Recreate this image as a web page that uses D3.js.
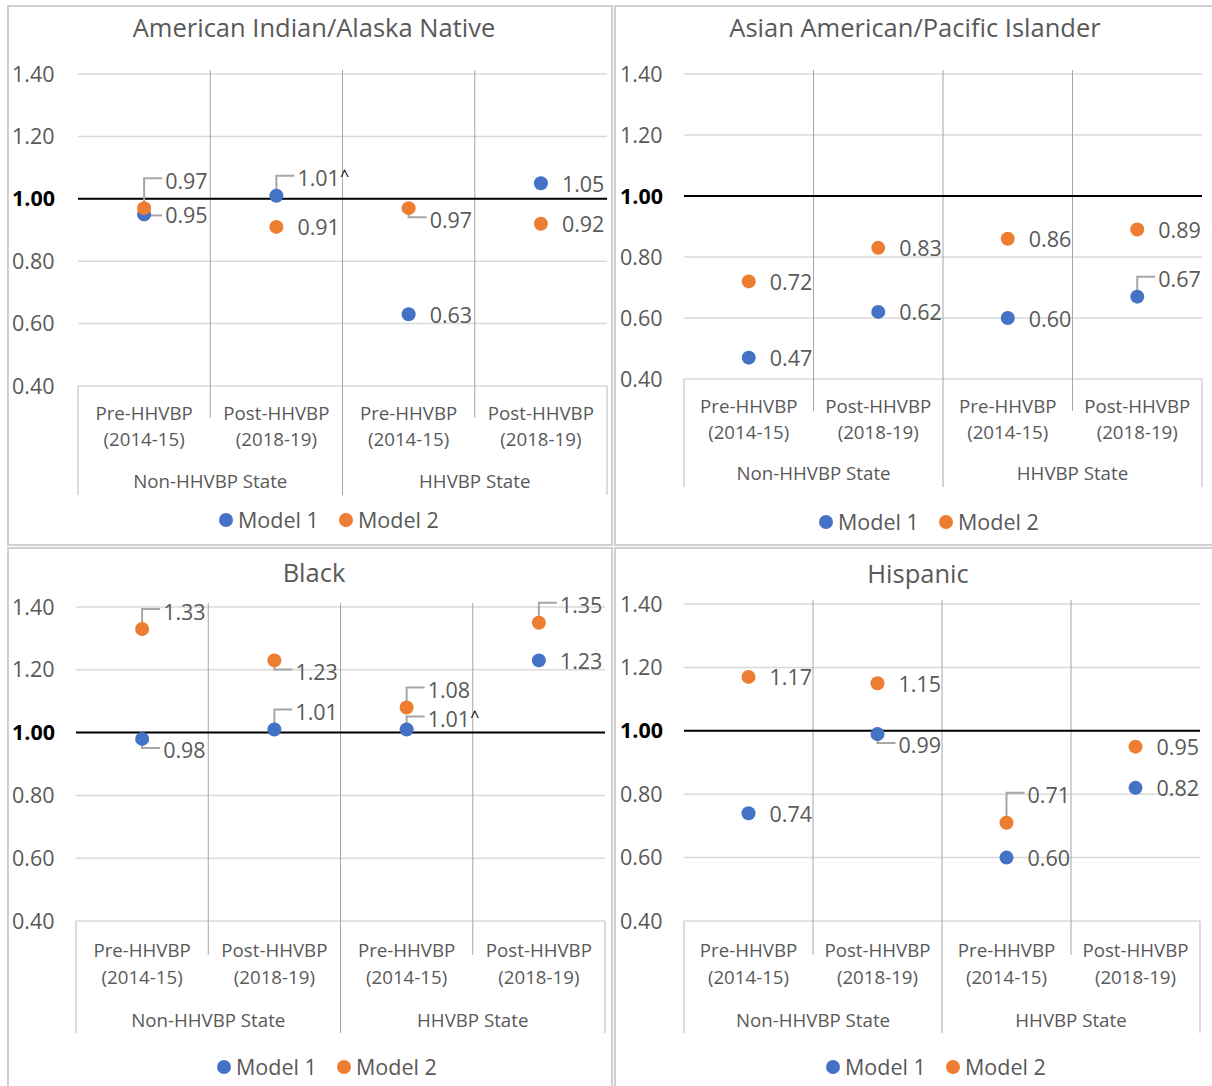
<!DOCTYPE html>
<html>
<head>
<meta charset="utf-8">
<script src="https://cdn.jsdelivr.net/npm/d3@7"></script>
<style>
body { margin: 0; background: #fff; }
text { font-family: "Open Sans", sans-serif; fill: #595959; }
</style>
</head>
<body>
<svg width="1212" height="1086"></svg>
<script>
// ---- data ----
const titles = ["American Indian/Alaska Native", "Asian American/Pacific Islander", "Black", "Hispanic"]
const periods = ["Pre-HHVBP", "Post-HHVBP", "Pre-HHVBP", "Post-HHVBP"]
const years = ["(2014-15)", "(2018-19)", "(2014-15)", "(2018-19)"]
const groups = ["Non-HHVBP State", "HHVBP State"]
const seriesNames = ["Model 1", "Model 2"]
const yTicks = [0.4, 0.6, 0.8, 1.0, 1.2, 1.4]

const model1 = [
	[0.95, 1.01, 0.63, 1.05],
	[0.47, 0.62, 0.60, 0.67],
	[0.98, 1.01, 1.01, 1.23],
	[0.74, 0.99, 0.60, 0.82],
]
const model2 = [
	[0.97, 0.91, 0.97, 0.92],
	[0.72, 0.83, 0.86, 0.89],
	[1.33, 1.23, 1.08, 1.35],
	[1.17, 1.15, 0.71, 0.95],
]
// "^" marks next to some model 1 labels
const model1Marks = [
	["", "^", "", ""],
	["", "", "", ""],
	["", "", "^", ""],
	["", "", "", ""],
]

// label placement: r = right, l = right with leader,
// s / u / U = above-right elbow (short / normal / tall), d = below-right elbow
const model1Place = [
	["l", "u", "r", "r"],
	["r", "r", "r", "u"],
	["d", "u", "s", "r"],
	["r", "d", "r", "r"],
]
const model2Place = [
	["U", "r", "d", "r"],
	["r", "r", "r", "r"],
	["u", "d", "u", "u"],
	["r", "r", "U", "r"],
]

const colors = ["#4472C4", "#ED7D31"]

// ---- layout per panel ----
const layout = [
	{ box: [8, 6, 604, 539], titleX: 314, titleY: 28, y0: 386, y1: 74, x0: 78, x1: 607, tickX: 12, cat1: 413, cat2: 439, grp: 481, axisBot: 495, legX: 226, legY: 520 },
	{ box: [615, 6, 600, 539], titleX: 915, titleY: 28, y0: 379, y1: 74, x0: 684, x1: 1202, tickX: 620, cat1: 406, cat2: 432, grp: 473, axisBot: 487, legX: 826, legY: 522 },
	{ box: [8, 548, 604, 545], titleX: 314, titleY: 573, y0: 921, y1: 607, x0: 76, x1: 605, tickX: 12, cat1: 950, cat2: 977, grp: 1020, axisBot: 1033, legX: 224, legY: 1067 },
	{ box: [615, 548, 600, 545], titleX: 918, titleY: 574, y0: 921, y1: 604, x0: 684, x1: 1200, tickX: 620, cat1: 950, cat2: 977, grp: 1020, axisBot: 1033, legX: 833, legY: 1067 },
]

const svg = d3.select("svg")

layout.forEach(function (L, i) {
	drawPanel(svg.append("g").attr("class", "panel"), L, i)
})

function drawPanel(g, L, i) {
	const y = d3.scaleLinear().domain([0.4, 1.4]).range([L.y0, L.y1])
	const x = d3.scaleBand().domain(d3.range(4)).range([L.x0, L.x1])
	const xg = d3.scaleBand().domain(d3.range(2)).range([L.x0, L.x1])

	// frame
	g.append("rect")
		.attr("x", L.box[0]).attr("y", L.box[1])
		.attr("width", L.box[2]).attr("height", L.box[3])
		.attr("fill", "#fff").attr("stroke", "#D0D0D0").attr("stroke-width", 2)

	g.append("text")
		.attr("x", L.titleX).attr("y", L.titleY)
		.attr("dy", "0.35em").attr("text-anchor", "middle")
		.attr("font-size", 25.5)
		.text(titles[i])

	// horizontal gridlines
	g.selectAll(".grid").data(yTicks).join("line")
		.attr("class", "grid")
		.attr("x1", L.x0).attr("x2", L.x1)
		.attr("y1", d => y(d)).attr("y2", d => y(d))
		.attr("stroke", "#D9D9D9").attr("stroke-width", 1.5)

	// tick labels
	g.selectAll(".tick").data(yTicks).join("text")
		.attr("class", "tick")
		.attr("x", L.tickX).attr("y", d => y(d))
		.attr("dy", "0.35em")
		.attr("font-size", 21.5)
		.attr("font-weight", d => d === 1 ? "bold" : null)
		.style("fill", d => d === 1 ? "#000" : null)
		.text(d => d3.format(".2f")(d))

	// category separators
	const inner = [1, 3].map(k => x(k))
	g.selectAll(".vsep").data(inner).join("line")
		.attr("class", "vsep")
		.attr("x1", d => d).attr("x2", d => d)
		.attr("y1", L.y1 - 4).attr("y2", L.cat1 + 5)
		.attr("stroke", "#A6A6A6").attr("stroke-width", 1)
	g.append("line")
		.attr("x1", x(2)).attr("x2", x(2))
		.attr("y1", L.y1 - 4).attr("y2", L.axisBot)
		.attr("stroke", "#A6A6A6").attr("stroke-width", 1)
	g.selectAll(".vbox").data([L.x0, L.x1]).join("line")
		.attr("class", "vbox")
		.attr("x1", d => d).attr("x2", d => d)
		.attr("y1", L.y0).attr("y2", L.axisBot)
		.attr("stroke", "#D0D0D0").attr("stroke-width", 1.5)

	// reference line at 1.00
	g.append("line")
		.attr("x1", L.x0).attr("x2", L.x1)
		.attr("y1", y(1)).attr("y2", y(1))
		.attr("stroke", "#000").attr("stroke-width", 2)

	// category labels
	g.selectAll(".per").data(periods).join("text")
		.attr("class", "per")
		.attr("x", (d, k) => x(k) + x.bandwidth() / 2).attr("y", L.cat1)
		.attr("dy", "0.35em").attr("text-anchor", "middle").attr("font-size", 18.7)
		.text(d => d)
	g.selectAll(".yr").data(years).join("text")
		.attr("class", "yr")
		.attr("x", (d, k) => x(k) + x.bandwidth() / 2).attr("y", L.cat2)
		.attr("dy", "0.35em").attr("text-anchor", "middle").attr("font-size", 18.7)
		.text(d => d)
	g.selectAll(".grp").data(groups).join("text")
		.attr("class", "grp")
		.attr("x", (d, k) => xg(k) + xg.bandwidth() / 2).attr("y", L.grp)
		.attr("dy", "0.35em").attr("text-anchor", "middle").attr("font-size", 18.7)
		.text(d => d)

	// points + labels
	const series = [
		{ vals: model1[i], place: model1Place[i], marks: model1Marks[i], color: colors[0] },
		{ vals: model2[i], place: model2Place[i], marks: ["", "", "", ""], color: colors[1] },
	]
	series.forEach(function (s) {
		s.vals.forEach(function (v, k) {
			const px = x(k) + x.bandwidth() / 2
			const py = y(v)
			const p = s.place[k]
			let ly = py + 1
			if (p === "s") ly = py - 10
			if (p === "u") ly = py - 17
			if (p === "U") ly = py - 27
			if (p === "d") ly = py + 12
			const lx = px + 21
			if (p === "s" || p === "u" || p === "U" || p === "d") {
				g.append("path")
					.attr("d", `M${px},${py} L${px},${ly - 3} L${lx - 3},${ly - 3}`)
					.attr("fill", "none").attr("stroke", "#A6A6A6").attr("stroke-width", 2)
			}
			if (p === "l") {
				g.append("path")
					.attr("d", `M${px},${ly} L${lx - 3},${ly}`)
					.attr("fill", "none").attr("stroke", "#A6A6A6").attr("stroke-width", 2)
			}
			g.append("circle")
				.attr("cx", px).attr("cy", py).attr("r", 7)
				.attr("fill", s.color)
			const t = g.append("text")
				.attr("x", lx).attr("y", ly)
				.attr("dy", "0.35em").attr("font-size", 21.5)
				.text(d3.format(".2f")(v))
			if (s.marks[k]) {
				t.append("tspan").attr("dy", "-0.3em").style("fill", "#000").attr("font-size", 16).text(s.marks[k])
			}
		})
	})

	// legend
	const leg = g.append("g").attr("transform", `translate(${L.legX},${L.legY})`)
	seriesNames.forEach(function (name, k) {
		const ox = k * 120
		leg.append("circle").attr("cx", ox).attr("cy", 0).attr("r", 7).attr("fill", colors[k])
		leg.append("text").attr("x", ox + 12).attr("y", 0).attr("dy", "0.35em")
			.attr("font-size", 21.5).text(name)
	})
}
</script>
</body>
</html>
